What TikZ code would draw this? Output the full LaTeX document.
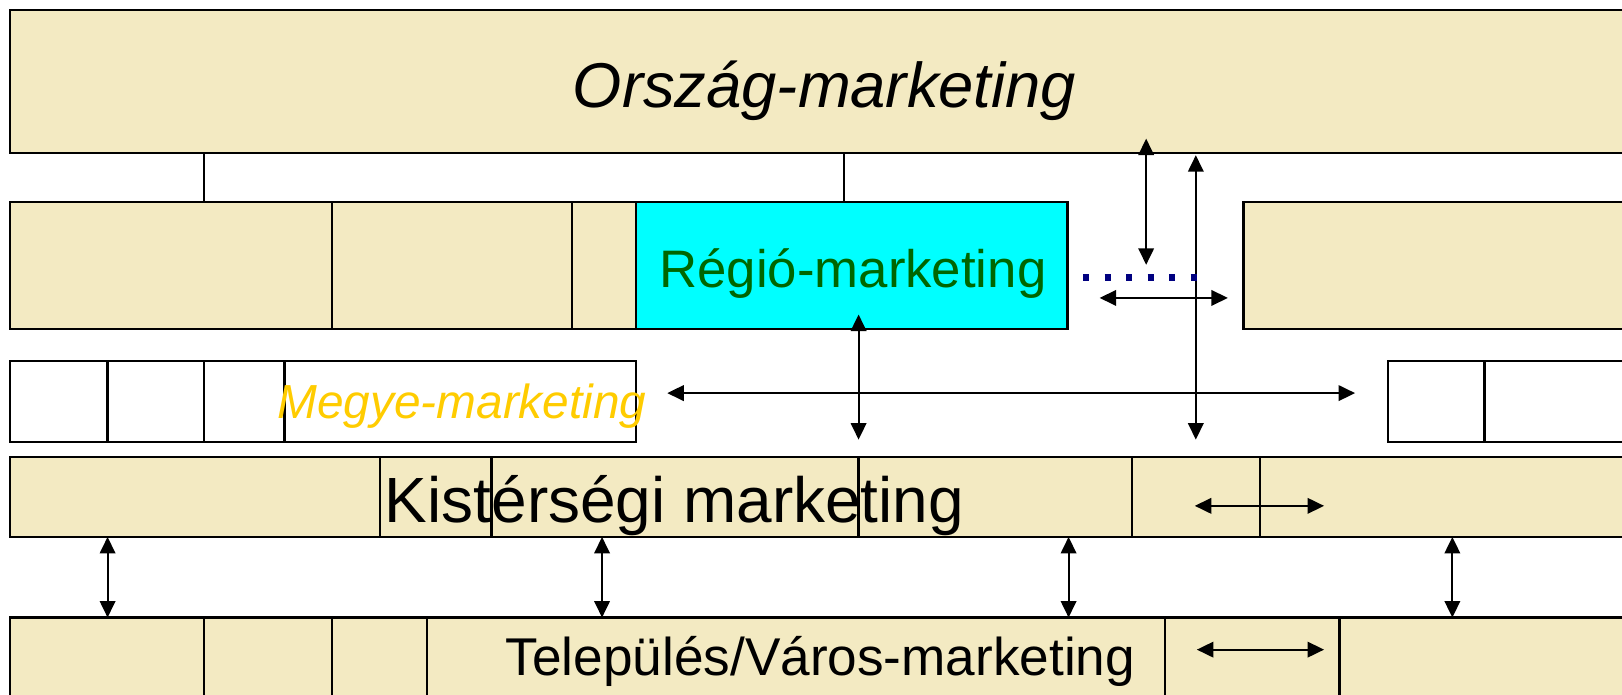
\documentclass[tikz,border=0pt]{standalone}
\usepackage{fontspec}
\setmainfont{Liberation Sans}
\usetikzlibrary{arrows.meta,fit}

\definecolor{sand}{HTML}{F3EAC2}
\definecolor{regiocyan}{HTML}{00FFFF}
\definecolor{regiogreen}{HTML}{006600}
\definecolor{megyegold}{HTML}{FFCC00}
\definecolor{dotnavy}{HTML}{000080}

\tikzset{
  cell/.style={draw=black, line width=1.1pt, fill=sand, inner sep=0pt, outer sep=0pt},
  blank/.style={cell, fill=white},
  hot/.style={cell, fill=regiocyan},
  link/.style={draw=black, line width=1pt},
  both/.style={link, {Triangle[length=8pt,width=7.5pt]}-{Triangle[length=8pt,width=7.5pt]}},
  lbl/.style={anchor=base, inner sep=0pt, outer sep=0pt},
  dots/.style={draw=dotnavy, line width=3.4pt, dash pattern=on 3pt off 7.4pt},
}

\begin{document}
\begin{tikzpicture}[x=0.5pt, y=-0.5pt]
\useasboundingbox (0,0) rectangle (1568,671);
\clip (0,0) rectangle (1568,671);

% national level
\node[cell, fit={(10,10) (1600,148)}] (orszag) {};

% regions
\node[cell, fit={(10,195) (321,318)}]   (r2a) {};
\node[cell, fit={(321,195) (553,318)}]  (r2b) {};
\node[cell, fit={(553,195) (615,318)}]  (r2c) {};
\node[hot,  fit={(615,195) (1032,318)}] (regio) {};
\node[cell, fit={(1202,195) (1600,318)}] (r2r) {};

% counties
\node[blank, fit={(10,349) (104,427)}]    (r3a) {};
\node[blank, fit={(104,349) (197,427)}]   (r3b) {};
\node[blank, fit={(197,349) (275,427)}]   (r3c) {};
\node[blank, fit={(275,349) (615,427)}]   (megye) {};
\node[blank, fit={(1342,349) (1435,427)}] (r3r1) {};
\node[blank, fit={(1435,349) (1600,427)}] (r3r2) {};

% micro-regions
\node[cell, fit={(10,442) (367,519)}]    (r4a) {};
\node[cell, fit={(367,442) (475,519)}]   (r4b) {};
\node[cell, fit={(475,442) (830,519)}]   (r4c) {};
\node[cell, fit={(830,442) (1094,519)}]  (r4d) {};
\node[cell, fit={(1094,442) (1218,519)}] (r4e) {};
\node[cell, fit={(1218,442) (1600,519)}] (r4f) {};

% settlements
\node[cell, fit={(10,597) (197,700)}]    (r5a) {};
\node[cell, fit={(197,597) (321,700)}]   (r5b) {};
\node[cell, fit={(321,597) (413,700)}]   (r5c) {};
\node[cell, fit={(413,597) (1126,700)}]  (r5d) {};
\node[cell, fit={(1126,597) (1295,700)}] (r5e) {};
\node[cell, fit={(1295,597) (1600,700)}] (r5f) {};

% labels
\node[lbl, font=\fontsize{30.6pt}{36pt}\itshape] (torszag) at (797,104) {Ország-marketing};
\node[lbl, font=\fontsize{25.5pt}{30pt}\selectfont, text=regiogreen] (tregio) at (824.5,278) {Régió-marketing};
\node[lbl, font=\fontsize{23.1pt}{28pt}\itshape, text=megyegold] (tmegye) at (446.5,405) {Megye-marketing};
\node[lbl, font=\fontsize{30.9pt}{36pt}\selectfont] (tkist) at (652,505) {Kistérségi marketing};
\node[lbl, font=\fontsize{25.7pt}{30pt}\selectfont] (ttel) at (793,653) {Település/Város-marketing};

% tree lines from the national box
\draw[link, line width=1.1pt] (197,0 |- orszag.south) -- (197,0 |- r2a.north);
\draw[link, line width=1.1pt] (816,0 |- orszag.south) -- (816,0 |- regio.north);

% free arrow ends
\coordinate (a1s) at (1108,134);
\coordinate (a1e) at (1108,256);
\coordinate (a2s) at (1156,150);
\coordinate (a2e) at (1156,425);
\coordinate (a3s) at (1063,288);
\coordinate (a3e) at (1187,288);
\coordinate (a4s) at (645,380);
\coordinate (a4e) at (1310,380);
\coordinate (a5s) at (830,304);
\coordinate (a5e) at (830,425);
\coordinate (a6s) at (1155,489);
\coordinate (a6e) at (1280,489);
\coordinate (a7s) at (1157,628);
\coordinate (a7e) at (1280,628);
\coordinate (d1) at (1047,268);
\coordinate (d2) at (1157,268);

% cooperation arrows
\draw[both] (a1s) -- (a1e);
\draw[both] (a2s) -- (a2e);
\draw[both] (a3s) -- (a3e);
\draw[both] (a4s) -- (a4e);
\draw[both] (a5s) -- (a5e);
\draw[both] (a6s) -- (a6e);
\draw[both] (a7s) -- (a7e);

% links between micro-regions and settlements
\draw[both] (104,0 |- r4a.south)  -- (104,0 |- r5a.north);
\draw[both] (582,0 |- r4c.south)  -- (582,0 |- r5d.north);
\draw[both] (1033,0 |- r4d.south) -- (1033,0 |- r5d.north);
\draw[both] (1404,0 |- r4f.south) -- (1404,0 |- r5f.north);

% dotted link
\draw[dots] (d1) -- (d2);
\end{tikzpicture}
\end{document}
